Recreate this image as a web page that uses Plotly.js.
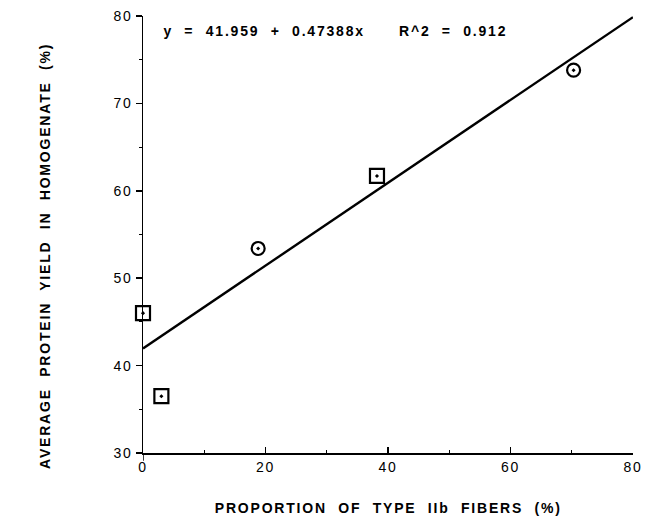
<!DOCTYPE html>
<html>
<head>
<meta charset="utf-8">
<script src="https://cdn.plot.ly/plotly-3.0.1.min.js"></script>
<style>
html,body{margin:0;padding:0;background:#fff;}
#chart{width:648px;height:523px;}
#chart text{letter-spacing:1.8px;}
</style>
</head>
<body>
<div id="chart"></div>
<script>
// Data
const squareX = [0, 3, 38.2];
const squareY = [46.0, 36.5, 61.7];
const circleX = [18.8, 70.3];
const circleY = [53.4, 73.8];
const fitX = [0, 80];
const fitY = [41.959, 79.87];
const xTicks = [0, 20, 40, 60, 80];
const yTicks = [30, 40, 50, 60, 70, 80];
const equationText = "y  =  41.959  +  0.47388x      R^2  =  0.912";
const xTitle = "PROPORTION  OF  TYPE  IIb  FIBERS  (%)";
const yTitle = "AVERAGE  PROTEIN  YIELD  IN  HOMOGENATE  (%)";

const font = "Liberation Sans, Arial, Helvetica, sans-serif";

const traces = [
  {x: fitX, y: fitY, mode: 'lines', line: {color: '#000', width: 2.4}, hoverinfo: 'skip', cliponaxis: false},
  {x: squareX, y: squareY, mode: 'markers', cliponaxis: false,
   marker: {symbol: 'square-open-dot', size: 14, color: '#000', line: {color: '#000', width: 2.2}}},
  {x: circleX, y: circleY, mode: 'markers', cliponaxis: false,
   marker: {symbol: 'circle-open-dot', size: 13, color: '#000', line: {color: '#000', width: 2.2}}}
];

const layout = {
  width: 648, height: 523,
  margin: {l: 143, r: 15, t: 16, b: 70},
  paper_bgcolor: '#fff', plot_bgcolor: '#fff',
  showlegend: false,
  font: {family: font, color: '#000', size: 14},
  xaxis: {
    range: [0, 80], tickvals: xTicks, ticktext: xTicks.map(String),
    showgrid: false, zeroline: false, showline: true, linecolor: '#000', linewidth: 2.2,
    ticks: 'inside', ticklen: 6, tickwidth: 1.5, tickcolor: '#000',
    minor: {dtick: 10, ticks: 'inside', ticklen: 3, tickwidth: 1, tickcolor: '#000', showgrid: false},
    tickfont: {size: 14, family: font}
  },
  yaxis: {
    range: [30, 80], tickvals: yTicks, ticktext: yTicks.map(String),
    showgrid: false, zeroline: false, showline: true, linecolor: '#000', linewidth: 1.5,
    ticks: 'outside', ticklen: 6, tickwidth: 1.5, tickcolor: '#000',
    minor: {dtick: 5, ticks: 'outside', ticklen: 3, tickwidth: 1, tickcolor: '#000', showgrid: false},
    tickfont: {size: 14, family: font}
  },
  shapes: [{
    type: 'line', xref: 'x', yref: 'paper', x0: 0, x1: 0, y0: 0, y1: -0.018,
    line: {color: '#000', width: 1.5}
  }],
  annotations: [
    {xref: 'paper', yref: 'paper', x: 0.393, y: 0.966, xanchor: 'center', yanchor: 'middle',
     text: equationText, showarrow: false, font: {size: 14, family: font, weight: 'bold'}},
    {xref: 'paper', yref: 'paper', x: 0.5, y: -0.125, xanchor: 'center', yanchor: 'middle',
     text: xTitle, showarrow: false, font: {size: 14, family: font, weight: 'bold'}},
    {xref: 'paper', yref: 'paper', x: -0.2, y: 0.45, xanchor: 'center', yanchor: 'middle', textangle: -90,
     text: yTitle, showarrow: false, font: {size: 14, family: font, weight: 'bold'}}
  ]
};

Plotly.newPlot('chart', traces, layout, {displayModeBar: false, staticPlot: true});
</script>
</body>
</html>
